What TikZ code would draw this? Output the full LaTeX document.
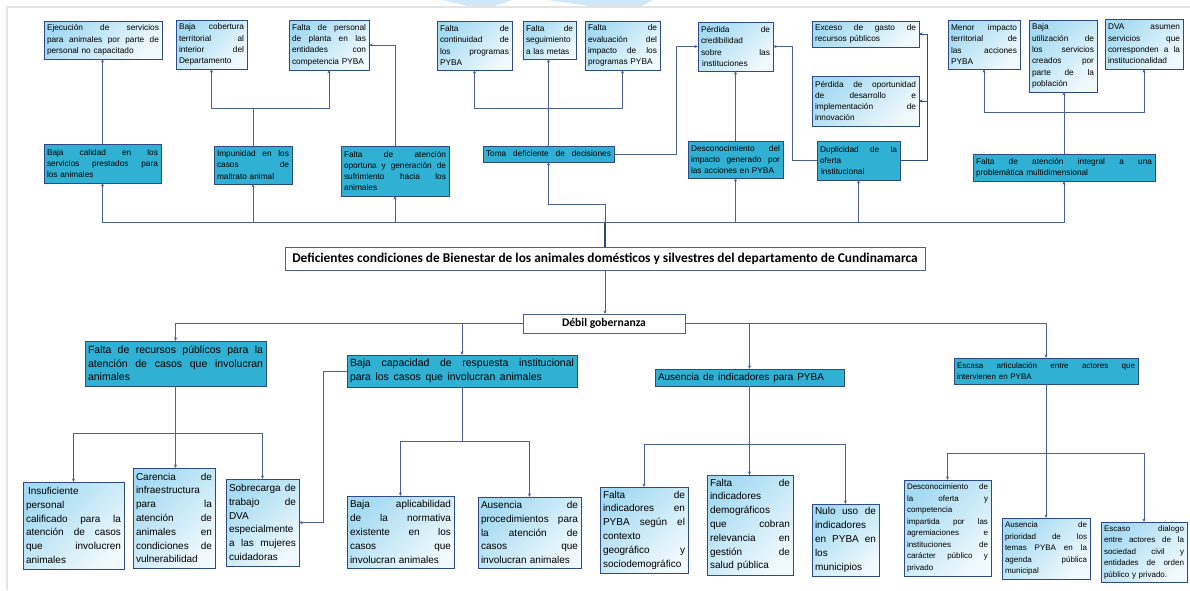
\documentclass[tikz,border=0pt]{standalone}
\usepackage{fontspec}
\setmainfont{Liberation Sans}
\newfontfamily\calfont{Carlito}
\usetikzlibrary{arrows.meta}
\definecolor{tealc}{HTML}{30B0D2}
\definecolor{bordc}{HTML}{2E4A86}
\definecolor{lgA}{HTML}{A4DAF2}
\definecolor{lgB}{HTML}{F0F9FD}
\definecolor{connc}{HTML}{4C5F96}
\definecolor{framec}{HTML}{E4E4E4}
\definecolor{wmc}{HTML}{CFE7F6}
\newcommand\SL[2]{\makebox[#1][s]{\spaceskip=.3em plus 1fil\xspaceskip=\spaceskip\relax #2}}
\newcommand\JL[1]{\SL{\myT pt}{#1}}
\newcommand\bx[7]{%
  \pgfmathsetmacro\myW{#5-#3}\pgfmathsetmacro\myH{#6-#4}\pgfmathsetmacro\myT{#5-#3-6}%
  \node[#2,anchor=north west,minimum width=\myW pt,minimum height=\myH pt,text width=\myT pt] (#1) at (#3,#4) {#7};}
\tikzset{
  basebox/.style={draw=bordc,line width=0.9pt,inner xsep=3pt,inner ysep=2pt,outer sep=0pt,align=left},
  dk/.style={basebox,fill=tealc},
  lt/.style={basebox,top color=lgA,bottom color=lgB,shading angle=45},
  fs/.style={font=\fontsize{8.3}{11.3}\selectfont},
  fj/.style={font=\fontsize{8}{11.5}\selectfont},
  fm/.style={font=\fontsize{10}{13.8}\selectfont},
  fl/.style={font=\fontsize{10.5}{13.5}\selectfont},
  fsb/.style={font=\fontsize{8}{11}\selectfont},
  mainbox/.style={draw=connc,line width=0.9pt,fill=white,inner sep=2pt,outer sep=0pt,font=\calfont\bfseries\fontsize{11.6}{14}\selectfont},
  conn/.style={draw=connc,line width=1pt},
  arr/.style={conn,-{Stealth[length=3.5pt,width=3pt]}}
}
\begin{document}
\begin{tikzpicture}[x=1pt,y=-1pt]
\useasboundingbox (0,0) rectangle (1190,590);
\fill[white] (0,0) rectangle (1190,590);
% watermark and page frame
\fill[wmc] (442,0) -- (512,0) -- (492,7) -- (472,7) -- cycle;
\fill[wmc] (548,0) -- (653,0) -- (640,7) -- (597,7) -- cycle;
\draw[framec,line width=2pt] (7,590) -- (7,7) -- (1190,7);

% ---- effects (top) ----
\bx{B1}{lt,fs}{44}{21}{162}{59}{\JL{Ejecución de servicios}\\\JL{para animales por parte de}\\personal no capacitado}
\bx{B2}{lt,fs}{176}{20}{247}{69}{\JL{Baja cobertura}\\\JL{territorial al}\\\JL{interior del}\\Departamento}
\bx{B3}{lt,fs}{289}{20}{369}{70}{\JL{Falta de personal}\\\JL{de planta en las}\\\JL{entidades con}\\competencia PYBA}
\bx{B4}{dk,fs}{44}{144}{161}{183}{\JL{Baja calidad en los}\\\JL{servicios prestados para}\\los animales}
\bx{B5}{dk,fs}{214}{146}{292}{184}{\JL{Impunidad en los}\\\JL{casos de}\\maltrato animal}
\bx{B6}{dk,fs}{341}{146}{449}{196}{\JL{Falta de atención}\\\JL{oportuna y generación de}\\\JL{sufrimiento hacia los}\\animales}
\bx{C1}{lt,fs}{437}{21}{512}{70}{\JL{Falta de}\\\JL{continuidad de}\\\JL{los programas}\\PYBA}
\bx{C2}{lt,fs}{523}{21}{576}{59}{\JL{Falta de}\\seguimiento\\a las metas}
\bx{C3}{lt,fs}{585}{21}{660}{70}{\JL{Falta de}\\\JL{evaluación del}\\\JL{impacto de los}\\programas PYBA}
\bx{C4}{lt,fs}{698}{22}{773}{71}{\JL{Pérdida de}\\credibilidad\\\JL{sobre las}\\\hspace*{1pt}instituciones}
\bx{C5}{dk,fs}{483}{146}{614}{162}{\JL{Toma deficiente de decisiones}}
\bx{C6}{dk,fs}{688}{141}{783}{178}{\JL{Desconocimiento del}\\\JL{impacto generado por}\\las acciones en PYBA}
\bx{D1}{lt,fs}{812}{21}{919}{47}{\JL{Exceso de gasto de}\\recursos públicos}
\bx{D2}{lt,fs}{812}{76}{919}{126}{\JL{Pérdida de oportunidad}\\\JL{de desarrollo e}\\\JL{implementación de}\\innovación}
\bx{D3}{dk,fs}{817}{141}{900}{180}{\JL{Duplicidad de la}\\oferta\\\hspace*{1pt}institucional}
\bx{E1}{lt,fs}{948}{20}{1020}{69}{\JL{Menor impacto}\\\JL{territorial de}\\\JL{las acciones}\\PYBA}
\bx{E2}{lt,fs}{1029}{20}{1097}{92}{Baja\\\JL{utilización de}\\\JL{los servicios}\\\JL{creados por}\\\JL{parte de la}\\población}
\bx{E3}{lt,fs}{1105}{19}{1183}{69}{\JL{DVA asumen}\\\JL{servicios que}\\\JL{corresponden a la}\\institucionalidad}
\bx{E4}{dk,fs}{973}{154}{1155}{181}{\JL{Falta de atención integral a una}\\problemática multidimensional}

% ---- central problem ----
\node[mainbox,anchor=north west,minimum width=640pt,minimum height=23pt,font=\calfont\bfseries\fontsize{13.4}{15}\selectfont] (main) at (285,247) {Deficientes condiciones de Bienestar de los animales domésticos y silvestres del departamento de Cundinamarca};
\node[mainbox,anchor=north west,minimum width=162pt,minimum height=19pt] (deb) at (523,314) {Débil gobernanza};

% ---- causes ----
\bx{F1}{dk,fl}{85}{341}{266}{386}{\JL{Falta de recursos públicos para la}\\\JL{atención de casos que involucran}\\animales}
\bx{F2}{dk,fl}{347}{355}{577}{387}{\JL{Baja capacidad de respuesta institucional}\\\SL{192pt}{para los casos que involucran animales}}
\bx{F3}{dk,fm}{655}{369}{844}{386}{\SL{166pt}{Ausencia de indicadores para PYBA}}
\bx{F4}{dk,fsb}{954}{358}{1138}{384}{\JL{Escasa articulación entre actores que}\\intervienen en PYBA}

\bx{G1}{lt,fm}{23}{482}{124}{569}{\hspace*{2pt}Insuficiente\\personal\\\JL{calificado para la}\\\JL{atención de casos}\\\JL{que involucren}\\animales}
\bx{G2}{lt,fm}{133}{468}{215}{568}{\JL{Carencia de}\\infraestructura\\\JL{para la}\\\JL{atención de}\\\JL{animales en}\\\JL{condiciones de}\\vulnerabilidad}
\bx{G3}{lt,fm}{226}{479}{299}{566}{\JL{Sobrecarga de}\\\JL{trabajo de}\\DVA\\especialmente\\\JL{a las mujeres}\\cuidadoras}
\bx{H1}{lt,fm}{347}{496}{454}{568}{\JL{Baja aplicabilidad}\\\JL{de la normativa}\\\JL{existente en los}\\\JL{casos que}\\involucran animales}
\bx{H2}{lt,fm}{478}{497}{581}{568}{\JL{Ausencia de}\\\JL{procedimientos para}\\\JL{la atención de}\\\JL{casos que}\\involucran animales}
\bx{I1}{lt,fm}{600}{487}{688}{573}{\JL{Falta de}\\\JL{indicadores en}\\\JL{PYBA según el}\\contexto\\\JL{geográfico y}\\sociodemográfico}
\bx{I2}{lt,fm}{707}{475}{793}{575}{\JL{Falta de}\\indicadores\\demográficos\\\JL{que cobran}\\\JL{relevancia en}\\\JL{gestión de}\\salud pública}
\bx{I3}{lt,fm}{812}{504}{879}{576}{\JL{Nulo uso de}\\indicadores\\\JL{en PYBA en}\\los\\municipios}
\bx{J1}{lt,fj}{904}{480}{991}{576}{\JL{Desconocimiento de}\\\JL{la oferta y}\\competencia\\\JL{impartida por las}\\\JL{agremiaciones e}\\\JL{instituciones de}\\\JL{carácter público y}\\privado}
\bx{J2}{lt,fj}{1002}{518}{1090}{579}{\JL{Ausencia de}\\\JL{prioridad de los}\\\JL{temas PYBA en la}\\\JL{agenda pública}\\municipal}
\bx{J3}{lt,fj}{1101}{522}{1187}{582}{\JL{Escaso dialogo}\\\JL{entre actores de la}\\\JL{sociedad civil y}\\\JL{entidades de orden}\\público y privado.}

% ---- helper coordinates ----
\coordinate (bus) at (605,222);
\coordinate (cj) at (605,204);
\coordinate (yB) at (0,108);
\coordinate (yE) at (0,112);
\coordinate (xC) at (676,0);
\coordinate (xD) at (792,0);
\coordinate (xDD) at (927,0);
\coordinate (xF) at (323,0);
\coordinate (yL1) at (0,433);
\coordinate (yL2) at (0,441);
\coordinate (yL3) at (0,444);
\coordinate (yL4) at (0,453);

% ---- upper connectors ----
\draw[conn,line width=1.6pt,draw=bordc] (main.north) -- (bus);
\draw[arr] (bus) -| (B4.south);
\draw[arr] (bus) -| (B5.south);
\draw[arr] (bus) -| (B6.south);
\draw[arr] (bus) -| (C6.south);
\draw[arr] (bus) -| (D3.south);
\draw[arr] (bus) -| (E4.south);
\draw[arr] (bus) -- (cj) -| (C5.south);
\draw[arr] (B4.north) -- (B4.north |- B1.south);
\draw[arr] (B5.north) -- (B5.north |- yB) -| (B2.south);
\draw[arr] (B5.north |- yB) -| (B3.south);
\draw[arr] (B6.north) |- (B3.east);
\draw[arr] (C5.north) -- (C5.north |- C2.south);
\draw[arr] (C5.north |- yB) -| (C1.south);
\draw[arr] (C5.north |- yB) -| (C3.south);
\draw[arr] (C5.east) -| (xC |- C4.west) -- (C4.west);
\draw[arr] (C6.north) -- (C6.north |- C4.south);
\draw[arr] (D3.west) -| (xD |- C4.east) -- (C4.east);
\draw[arr,draw=bordc] (D3.east) -| (xDD |- D2.east) -- (D2.east);
\draw[arr,draw=bordc] (xDD |- D2.east) |- (D1.east);
\draw[arr] (E4.north) -- (E4.north |- E2.south);
\draw[arr] (E4.north |- yE) -| (E1.south);
\draw[arr] (E4.north |- yE) -| (E3.south);

% ---- lower connectors ----
\draw[arr] (main.south) -- (main.south |- deb.north);
\draw[arr] (deb.west) -| (F1.north);
\draw[arr] (deb.west) -| (F2.north);
\draw[arr] (deb.east) -| (F3.north);
\draw[arr] (deb.east) -| (F4.north);
\draw[arr] (F1.south) -- (F1.south |- yL1) -| (G1.north);
\draw[arr] (F1.south |- yL1) -| (G3.north);
\draw[arr] (F1.south) -- (F1.south |- G2.north);
\draw[arr] (F2.west) -| (xF |- G3.east) -- (G3.east);
\draw[arr] (F2.south) -- (F2.south |- yL2) -| (H1.north);
\draw[arr] (F2.south |- yL2) -| (H2.north);
\draw[arr] (F3.south) -- (F3.south |- yL3) -| (I1.north);
\draw[arr] (F3.south |- yL3) -| (I3.north);
\draw[arr] (F3.south) -- (F3.south |- I2.north);
\draw[arr] (F4.south) -- (F4.south |- yL4) -| (J1.north);
\draw[arr] (F4.south |- yL4) -| (J3.north);
\draw[arr] (F4.south) -- (F4.south |- J2.north);
\end{tikzpicture}
\end{document}
